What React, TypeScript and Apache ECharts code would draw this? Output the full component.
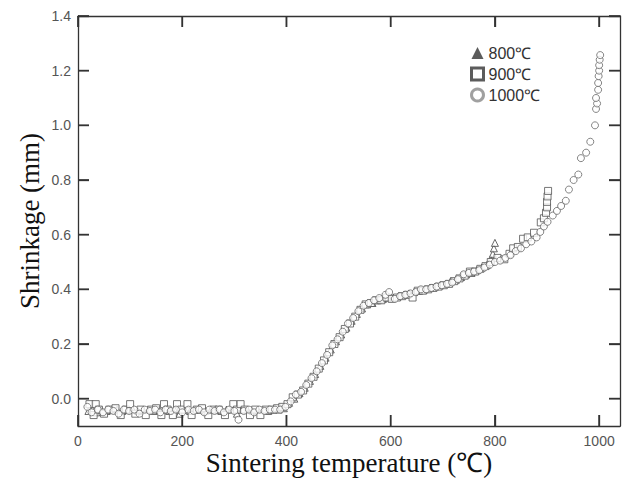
import React, { useEffect, useRef } from "react";
import * as echarts from "echarts";

const seriesNames = ["800℃", "900℃", "1000℃"];
const xTicks = [0, 200, 400, 600, 800, 1000];
const yTicks = [0, 0.2, 0.4, 0.6, 0.8, 1.0, 1.2, 1.4];

const data800: number[][] = [
  [20, -0.045], [28, -0.04], [35, -0.05], [45, -0.04], [55, -0.045], [65, -0.04], [75, -0.04], [85, -0.045],
  [95, -0.04], [105, -0.04], [115, -0.045], [125, -0.04], [135, -0.04], [145, -0.045], [155, -0.04], [165, -0.04],
  [175, -0.045], [185, -0.04], [195, -0.055], [205, -0.04], [215, -0.045], [225, -0.04], [235, -0.04], [245, -0.045],
  [255, -0.04], [265, -0.04], [275, -0.045], [285, -0.04], [295, -0.04], [305, -0.055], [315, -0.04], [325, -0.04],
  [335, -0.045], [345, -0.04], [355, -0.04], [365, -0.045], [375, -0.04], [385, -0.04], [395, -0.035],
  [405, -0.015], [415, 0.0], [425, 0.02], [435, 0.04], [445, 0.065], [455, 0.09], [465, 0.12], [475, 0.15],
  [485, 0.18], [495, 0.21], [505, 0.235], [515, 0.26], [525, 0.285], [535, 0.31], [545, 0.33], [555, 0.345],
  [565, 0.35], [575, 0.36], [585, 0.365], [595, 0.37], [605, 0.37], [615, 0.375], [625, 0.38], [635, 0.385],
  [645, 0.39], [655, 0.395], [665, 0.4], [675, 0.405], [685, 0.41], [695, 0.415], [705, 0.42], [715, 0.43],
  [725, 0.435], [735, 0.445], [745, 0.455], [755, 0.46], [765, 0.47], [775, 0.48], [785, 0.49], [792, 0.51],
  [796, 0.53], [798, 0.55], [800, 0.57]
];

const data900: number[][] = [
  [22, -0.02], [30, -0.06], [34, -0.02], [40, -0.04], [50, -0.055], [60, -0.04], [72, -0.035], [82, -0.06],
  [92, -0.04], [100, -0.02], [110, -0.055], [120, -0.04], [130, -0.06], [140, -0.04], [150, -0.035], [160, -0.06],
  [165, -0.02], [172, -0.04], [182, -0.06], [190, -0.02], [198, -0.04], [210, -0.02], [218, -0.06], [228, -0.04],
  [238, -0.035], [250, -0.06], [260, -0.04], [270, -0.04], [282, -0.06], [298, -0.02], [305, -0.04], [312, -0.02],
  [320, -0.04], [330, -0.06], [340, -0.04], [350, -0.06], [360, -0.04], [372, -0.04], [382, -0.035], [392, -0.03],
  [402, -0.02], [412, 0.005], [422, 0.015], [432, 0.03], [442, 0.055], [452, 0.08], [462, 0.11], [472, 0.14],
  [482, 0.17], [492, 0.2], [502, 0.225], [512, 0.255], [522, 0.275], [532, 0.3], [542, 0.325], [552, 0.345],
  [562, 0.35], [572, 0.36], [582, 0.36], [592, 0.37], [602, 0.365], [612, 0.37], [622, 0.375], [632, 0.38],
  [642, 0.37], [652, 0.395], [662, 0.395], [672, 0.4], [682, 0.405], [692, 0.41], [702, 0.415], [712, 0.42],
  [722, 0.43], [732, 0.44], [742, 0.45], [752, 0.465], [762, 0.465], [772, 0.475], [782, 0.485], [792, 0.5],
  [805, 0.515], [818, 0.51], [828, 0.53], [835, 0.55], [844, 0.555], [854, 0.585], [863, 0.59], [875, 0.607],
  [888, 0.645], [894, 0.66], [898, 0.68], [900, 0.7], [900, 0.72], [901, 0.74], [902, 0.76]
];

const data1000: number[][] = [
  [18, -0.03], [26, -0.05], [38, -0.04], [48, -0.05], [58, -0.04], [68, -0.045], [78, -0.055], [88, -0.04],
  [98, -0.045], [108, -0.04], [118, -0.055], [128, -0.04], [138, -0.045], [148, -0.04], [158, -0.05], [168, -0.04],
  [178, -0.045], [188, -0.04], [200, -0.05], [212, -0.04], [222, -0.045], [232, -0.04], [242, -0.05], [252, -0.04],
  [262, -0.045], [272, -0.04], [280, -0.05], [290, -0.04], [300, -0.045], [308, -0.077], [318, -0.045], [328, -0.04],
  [338, -0.05], [348, -0.04], [358, -0.045], [368, -0.04], [378, -0.04], [388, -0.04], [398, -0.03],
  [408, -0.01], [418, 0.015], [428, 0.025], [438, 0.05], [448, 0.075], [458, 0.1], [468, 0.13], [478, 0.16],
  [488, 0.195], [498, 0.217], [508, 0.245], [518, 0.275], [528, 0.295], [538, 0.32], [548, 0.34], [558, 0.35],
  [568, 0.36], [578, 0.368], [590, 0.38], [597, 0.39], [608, 0.365], [618, 0.375], [628, 0.38], [638, 0.385],
  [648, 0.39], [658, 0.4], [668, 0.4], [678, 0.405], [688, 0.41], [698, 0.415], [708, 0.42], [718, 0.425],
  [729, 0.437], [740, 0.455], [750, 0.46], [760, 0.465], [770, 0.47], [780, 0.48], [790, 0.49], [800, 0.5],
  [810, 0.505], [820, 0.515], [830, 0.525], [840, 0.54], [850, 0.55], [860, 0.565], [870, 0.575], [880, 0.59],
  [887, 0.61], [894, 0.63], [901, 0.647], [911, 0.67], [919, 0.687], [927, 0.705], [936, 0.724], [942, 0.765],
  [951, 0.8], [960, 0.82], [965, 0.88], [975, 0.9], [983, 0.94], [992, 1.0], [994, 1.06], [996, 1.08],
  [994, 1.1], [998, 1.13], [998, 1.155], [999, 1.18], [1000, 1.2], [1000, 1.22], [1001, 1.24], [1002, 1.257]
];

const X_MIN = 0, X_MAX = 1040;
const Y_MIN = -0.1, Y_MAX = 1.4;

export default function App() {
  const ref = useRef<HTMLDivElement>(null);
  useEffect(() => {
    if (!ref.current) return;
    const chart = echarts.init(ref.current, undefined, { renderer: "svg" });
    const TICK = 11;
    const TW = 1.5;
    const mkLine = () => ({ show: true, onZero: false, lineStyle: { color: "#333", width: 1.3 } });
    const mkTick = (vals: number[]) => ({
      show: true,
      inside: true,
      length: TICK,
      customValues: vals,
      lineStyle: { color: "#333", width: 1.3 },
    });
    const labelStyle = { color: "#555", fontSize: 14, fontFamily: "Liberation Sans" };
    const tickSeries = (data: number[][], size: number[], offset: number[]) => ({
      type: "scatter",
      clip: false,
      symbol: "rect",
      symbolSize: size,
      symbolOffset: offset,
      itemStyle: { color: "#333", borderWidth: 0 },
      emphasis: { disabled: true },
      tooltip: { show: false },
      z: 5,
      data,
    });

    chart.setOption({
      animation: false,
      backgroundColor: "#fff",
      grid: { left: 78, right: 3, top: 16, bottom: 56, outerBoundsMode: "none", containLabel: false },
      legend: {
        orient: "vertical",
        left: 465,
        top: 40,
        itemGap: 5,
        itemWidth: 12,
        itemHeight: 12,
        textStyle: { fontSize: 16, color: "#333", fontFamily: "Liberation Sans" },
        data: [
          { name: seriesNames[0], icon: "triangle", itemStyle: { color: "#333", borderWidth: 0 } },
          { name: seriesNames[1], icon: "rect", itemStyle: { color: "#fff", borderColor: "#333", borderWidth: 3 } },
          { name: seriesNames[2], icon: "circle", itemStyle: { color: "#fff", borderColor: "#888", borderWidth: 3 } },
        ],
      },
      xAxis: [
        {
          type: "value",
          min: X_MIN,
          max: X_MAX,
          position: "bottom",
          name: "Sintering temperature (℃)",
          nameLocation: "middle",
          nameGap: 23,
          nameMoveOverlap: false,
          nameTextStyle: { fontFamily: "Liberation Serif", fontSize: 27, color: "#111" },
          axisLine: mkLine(),
          axisTick: mkTick(xTicks),
          axisLabel: { ...labelStyle, margin: 8, customValues: xTicks, formatter: (v: number) => String(v) },
          splitLine: { show: false },
        },
        {
          type: "value",
          min: X_MIN,
          max: X_MAX,
          position: "top",
          axisLine: mkLine(),
          axisTick: mkTick(xTicks),
          axisLabel: { show: false, customValues: xTicks },
          splitLine: { show: false },
        },
      ],
      yAxis: [
        {
          type: "value",
          min: Y_MIN,
          max: Y_MAX,
          position: "left",
          name: "Shrinkage (mm)",
          nameLocation: "middle",
          nameGap: 35,
          nameMoveOverlap: false,
          nameRotate: 90,
          nameTextStyle: { fontFamily: "Liberation Serif", fontSize: 27, color: "#111" },
          axisLine: mkLine(),
          axisTick: mkTick(yTicks),
          axisLabel: { ...labelStyle, margin: 7, customValues: yTicks, formatter: (v: number) => v.toFixed(1) },
          splitLine: { show: false },
        },
        {
          type: "value",
          min: Y_MIN,
          max: Y_MAX,
          position: "right",
          axisLine: mkLine(),
          axisTick: mkTick(yTicks),
          axisLabel: { show: false, customValues: yTicks },
          splitLine: { show: false },
        },
      ],
      series: [
        {
          name: seriesNames[0],
          type: "scatter",
          symbol: "triangle",
          symbolSize: 7,
          data: data800,
          itemStyle: { color: "#fff", borderColor: "#444", borderWidth: 1 },
        },
        {
          name: seriesNames[1],
          type: "scatter",
          symbol: "rect",
          symbolSize: 7,
          data: data900,
          itemStyle: { color: "#fff", borderColor: "#555", borderWidth: 1 },
        },
        {
          name: seriesNames[2],
          type: "scatter",
          symbol: "circle",
          symbolSize: 7,
          data: data1000,
          itemStyle: { color: "#fff", borderColor: "#666", borderWidth: 1 },
        },
        // inward frame ticks, positioned through the axes' scales
        tickSeries(xTicks.map((v) => [v, Y_MIN]), [TW, TICK], [0, -TICK / 2]),
        tickSeries(xTicks.map((v) => [v, Y_MAX]), [TW, TICK], [0, TICK / 2]),
        tickSeries(yTicks.map((v) => [X_MIN, v]), [TICK, TW], [TICK / 2, 0]),
        tickSeries(yTicks.map((v) => [X_MAX, v]), [TICK, TW], [-TICK / 2, 0]),
      ],
    });

    // same ticks once more as plain graphic lines (pixel positions from the chart's scales)
    const finder = { xAxisIndex: 0, yAxisIndex: 0 };
    const els: any[] = [];
    const st = { stroke: "#333", lineWidth: 1.3 };
    xTicks.forEach((v) => {
      const b = chart.convertToPixel(finder, [v, Y_MIN]) as number[];
      const t = chart.convertToPixel(finder, [v, Y_MAX]) as number[];
      if (b && t) {
        els.push({ type: "line", z: 60, shape: { x1: b[0], y1: b[1], x2: b[0], y2: b[1] - TICK }, style: st });
        els.push({ type: "line", z: 60, shape: { x1: t[0], y1: t[1], x2: t[0], y2: t[1] + TICK }, style: st });
      }
    });
    yTicks.forEach((v) => {
      const l = chart.convertToPixel(finder, [X_MIN, v]) as number[];
      const r = chart.convertToPixel(finder, [X_MAX, v]) as number[];
      if (l && r) {
        els.push({ type: "line", z: 60, shape: { x1: l[0], y1: l[1], x2: l[0] + TICK, y2: l[1] }, style: st });
        els.push({ type: "line", z: 60, shape: { x1: r[0], y1: r[1], x2: r[0] - TICK, y2: r[1] }, style: st });
      }
    });
    chart.setOption({ graphic: els });

    return () => chart.dispose();
  }, []);
  return <div ref={ref} style={{ width: 623, height: 482, position: "absolute", left: 0, top: 0 }} />;
}
